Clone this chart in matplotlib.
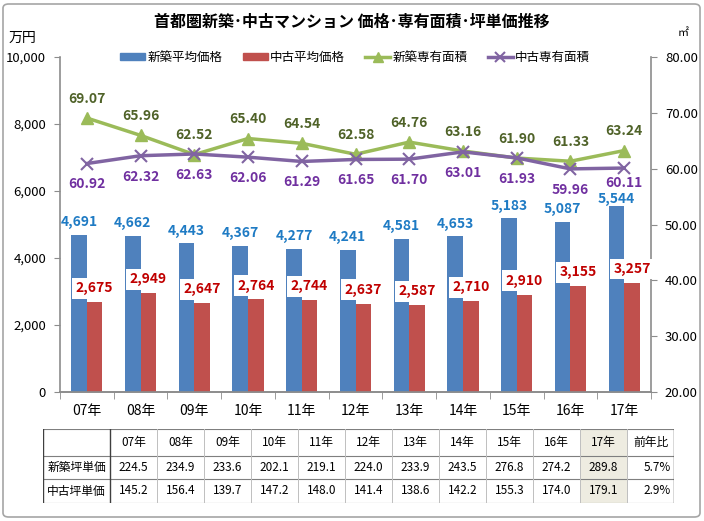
import numpy as np
import matplotlib.pyplot as plt
from matplotlib.patches import FancyBboxPatch, Rectangle
from matplotlib.lines import Line2D

plt.rcParams['font.family'] = ['Noto Sans CJK JP', 'DejaVu Sans']

# data
years = ['07年', '08年', '09年', '10年', '11年', '12年', '13年', '14年', '15年', '16年', '17年']
new_price = [4691, 4662, 4443, 4367, 4277, 4241, 4581, 4653, 5183, 5087, 5544]
used_price = [2675, 2949, 2647, 2764, 2744, 2637, 2587, 2710, 2910, 3155, 3257]
new_area = [69.07, 65.96, 62.52, 65.40, 64.54, 62.58, 64.76, 63.16, 61.90, 61.33, 63.24]
used_area = [60.92, 62.32, 62.63, 62.06, 61.29, 61.65, 61.70, 63.01, 61.93, 59.96, 60.11]

table_header = years + ['前年比']
row_names = ['新築坪単価', '中古坪単価']
new_tsubo = ['224.5', '234.9', '233.6', '202.1', '219.1', '224.0', '233.9', '243.5', '276.8', '274.2', '289.8', '5.7%']
used_tsubo = ['145.2', '156.4', '139.7', '147.2', '148.0', '141.4', '138.6', '142.2', '155.3', '174.0', '179.1', '2.9%']

c_blue = '#4F81BD'
c_red = '#C0504D'
c_green = '#9BBB59'
c_purple = '#8064A2'
grey = '#8C8C8C'

W, H = 704, 521
fig = plt.figure(figsize=(W / 100, H / 100), dpi=100)

# outer frame
frame = FancyBboxPatch((3 / W, 4 / H), 697 / W, 513 / H, boxstyle='round,pad=0,rounding_size=0.008',
                       transform=fig.transFigure, fill=False, edgecolor='#A6A6A6', linewidth=1.2)
fig.patches.append(frame)

ax = fig.add_axes([60 / W, 1 - 392 / H, 591 / W, 335 / H])
ax2 = ax.twinx()
ax.set_zorder(ax2.get_zorder() + 1)
ax.patch.set_visible(False)

x = np.arange(len(years))
bw = 0.29
ax.bar(x - bw / 2, new_price, bw, color=c_blue, zorder=2)
ax.bar(x + bw / 2, used_price, bw, color=c_red, zorder=2)

# label offsets (last ones were nudged in the original to avoid the line labels)
blue_off = [9] * (len(years) - 1) + [5]
purple_off = [-15] * (len(years) - 1) + [-11]

for xi, v, off in zip(x, new_price, blue_off):
    ax.annotate(f'{v:,}', (xi - bw / 2, v), xytext=(0, off), textcoords='offset points',
                ha='center', va='center', fontsize=10, fontweight='bold', color='#1F7BC4', zorder=5)
for xi, v in zip(x, used_price):
    ax.annotate(f'{v:,}', (xi + bw / 2, v), xytext=(0, 10), textcoords='offset points',
                ha='center', va='center', fontsize=10, fontweight='bold', color='#C00000', zorder=5,
                bbox=dict(boxstyle='square,pad=0.25', facecolor='white', edgecolor='none'))

ax.set_xlim(-0.5, len(years) - 0.5)
ax.set_ylim(0, 10000)
ax.set_yticks(np.arange(0, 10001, 2000))
ax.set_yticklabels([f'{v:,}' for v in range(0, 10001, 2000)])
ax.set_xticks(x)
ax.set_xticklabels(years)
ax.set_xticks(np.arange(-0.5, len(years), 1), minor=True)
ax.tick_params(axis='x', which='major', length=0, pad=9, labelsize=10)
ax.tick_params(axis='x', which='minor', length=5, color=grey, direction='out')
ax.tick_params(axis='y', length=4, color=grey, labelsize=9.5, pad=6)

# area lines on the right axis, drawn on the front axes via transform
ax2.set_ylim(20, 80)
ax2.set_yticks(np.arange(20, 81, 10))
ax2.set_yticklabels([f'{v:.2f}' for v in range(20, 81, 10)])
ax2.tick_params(axis='y', length=4, color=grey, labelsize=9.5, pad=6)

tr = ax2.transData
ax.plot(x, new_area, color=c_green, linewidth=2.5, marker='^', markersize=9, transform=tr, zorder=3)
ax.plot(x, used_area, color=c_purple, linewidth=2.5, marker='x', markersize=9, markeredgewidth=1.5,
        transform=tr, zorder=3)
for xi, v in zip(x, new_area):
    ax.annotate(f'{v:.2f}', (xi, v), xycoords=tr, xytext=(0, 14), textcoords='offset points',
                ha='center', va='center', fontsize=10, fontweight='bold', color='#4F6228', zorder=5)
for xi, v, off in zip(x, used_area, purple_off):
    ax.annotate(f'{v:.2f}', (xi, v), xycoords=tr, xytext=(0, off), textcoords='offset points',
                ha='center', va='center', fontsize=10, fontweight='bold', color='#7030A0', zorder=5)

for a in (ax, ax2):
    a.spines['top'].set_visible(False)
    for s in ('left', 'right', 'bottom'):
        a.spines[s].set_color(grey)
        a.spines[s].set_linewidth(1.2)
ax.spines['right'].set_visible(False)
ax2.spines['left'].set_visible(False)

fig.text(352 / W, 1 - 22 / H, '首都圏新築･中古マンション 価格･専有面積･坪単価推移', ha='center', va='center',
         fontsize=11.5, fontweight='bold')
fig.text(22 / W, 1 - 38 / H, '万円', ha='center', va='center', fontsize=10)
fig.text(683 / W, 1 - 33 / H, '㎡', ha='center', va='center', fontsize=8)

handles = [Rectangle((0, 0), 1, 1, color=c_blue), Rectangle((0, 0), 1, 1, color=c_red),
           Line2D([], [], color=c_green, linewidth=2.5, marker='^', markersize=7),
           Line2D([], [], color=c_purple, linewidth=2.5, marker='x', markersize=7, markeredgewidth=1.5)]
fig.legend(handles, ['新築平均価格', '中古平均価格', '新築専有面積', '中古専有面積'], ncol=4,
           loc='center', bbox_to_anchor=(355 / W, 1 - 57 / H), frameon=False, fontsize=9,
           handlelength=2.0, handleheight=0.5, columnspacing=1.6, handletextpad=0.2)

# table
tx0, tx1 = 43, 674
ty = [429, 456, 479, 503]
tab = fig.add_axes([tx0 / W, 1 - ty[-1] / H, (tx1 - tx0) / W, (ty[-1] - ty[0]) / H])
tab.set_xlim(tx0, tx1)
tab.set_ylim(ty[-1], ty[0])
tab.axis('off')
first_w = 67
col_w = (tx1 - tx0 - first_w) / len(table_header)
cols = [tx0, tx0 + first_w] + [tx0 + first_w + col_w * (i + 1) for i in range(len(table_header))]
hi = len(years)  # 17年 column starts at cols[hi]
tab.add_patch(Rectangle((cols[hi], ty[0]), col_w, ty[-1] - ty[0], facecolor='#EEECE1', edgecolor='none'))
for yy in ty:
    tab.plot([tx0, tx1], [yy, yy], color='#7F7F7F', linewidth=0.8)
for i, cx in enumerate(cols):
    strong = i in (0, 1, len(cols) - 1)
    tab.plot([cx, cx], [ty[0], ty[-1]], color='#3F3F3F' if strong else '#BFBFBF',
             linewidth=1.0 if strong else 0.7)
for j, lab in enumerate(table_header):
    tab.text(cols[j + 1] + col_w / 2, (ty[0] + ty[1]) / 2, lab, ha='center', va='center', fontsize=8.5)
for r, (name, vals) in enumerate(zip(row_names, [new_tsubo, used_tsubo])):
    yc = (ty[r + 1] + ty[r + 2]) / 2
    tab.text(tx0 + first_w / 2, yc, name, ha='center', va='center', fontsize=8.5)
    for j, v in enumerate(vals):
        if j == len(vals) - 1:
            tab.text(cols[j + 2] - 3, yc, v, ha='right', va='center', fontsize=8.5)
        else:
            tab.text(cols[j + 1] + col_w / 2, yc, v, ha='center', va='center', fontsize=8.5)

fig.savefig('out.png', dpi=100)
